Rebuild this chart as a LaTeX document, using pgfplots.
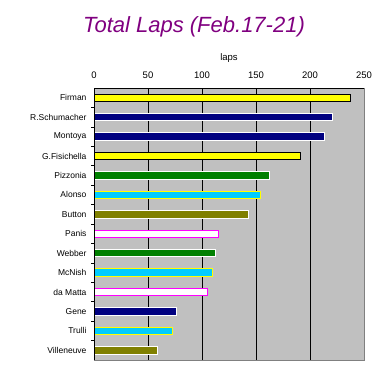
\documentclass[border=0pt]{standalone}
\usepackage{pgfplots}
\pgfplotsset{compat=1.18}
\usepackage{fontspec}
\setmainfont{Liberation Sans}
\definecolor{bgray}{HTML}{C0C0C0}
\definecolor{navy}{HTML}{000080}
\definecolor{dgreen}{HTML}{008000}
\definecolor{olive2}{HTML}{808000}
\definecolor{cyan2}{HTML}{00CCFF}
\definecolor{yel}{HTML}{FFFF00}
\definecolor{mag}{HTML}{FF00FF}
\definecolor{purp}{HTML}{800080}
\definecolor{edge}{HTML}{808080}
\begin{document}
\begin{tikzpicture}[x=1pt,y=1pt]
\useasboundingbox (0,0) rectangle (390,375);
\node[font=\fontsize{22}{24}\selectfont\itshape, text=purp] at (194,348) {Total Laps (Feb.17-21)};
\begin{axis}[
  at={(94pt,15pt)}, anchor=south west,
  width=270pt, height=272pt, scale only axis,
  xmin=0, xmax=250, ymin=-0.5, ymax=13.5, y dir=reverse,
  axis background/.style={fill=bgray},
  xtick={0,50,...,250},
  xticklabel pos=top,
  x tick label style={font=\fontsize{9.5}{11}\selectfont, yshift=6pt},
  xlabel={laps}, xlabel style={font=\fontsize{9.5}{11}\selectfont, yshift=2pt},
  xmajorgrids, major grid style={black, line width=0.9pt},
  major tick length=0pt,
  ytick={0,...,13}, ytick pos=left,
  yticklabels={Firman,R.Schumacher,Montoya,G.Fisichella,Pizzonia,Alonso,Button,Panis,Webber,McNish,da Matta,Gene,Trulli,Villeneuve},
  y tick label style={font=\fontsize{8.5}{10}\selectfont, xshift=-4pt},
  minor ytick={0.5,1.5,...,12.5},
  minor tick length=3pt, tick align=inside,
  minor tick style={black, line width=0.7pt},
  axis line style={edge, line width=0.9pt},
  /pgf/number format/assume math mode=true,
  xbar, bar width=7.5pt, bar shift=0pt,
  every axis plot/.append style={line width=0.9pt},
  clip=false,
]
\addplot[fill=yel, draw=black] coordinates {(237,0)};
\addplot[fill=navy, draw=white] coordinates {(221,1)};
\addplot[fill=navy, draw=white] coordinates {(213,2)};
\addplot[fill=yel, draw=black] coordinates {(191,3)};
\addplot[fill=dgreen, draw=white] coordinates {(162,4)};
\addplot[fill=cyan2, draw=yel] coordinates {(154,5)};
\addplot[fill=olive2, draw=white] coordinates {(143,6)};
\addplot[fill=white, draw=mag] coordinates {(115,7)};
\addplot[fill=dgreen, draw=white] coordinates {(112,8)};
\addplot[fill=cyan2, draw=yel] coordinates {(110,9)};
\addplot[fill=white, draw=mag] coordinates {(105,10)};
\addplot[fill=navy, draw=white] coordinates {(76,11)};
\addplot[fill=cyan2, draw=yel] coordinates {(73,12)};
\addplot[fill=olive2, draw=white] coordinates {(59,13)};
\draw[black, line width=0.9pt] (axis description cs:0,0) -- (axis description cs:0,1) -- (axis description cs:1,1);
\end{axis}
\end{tikzpicture}
\end{document}
